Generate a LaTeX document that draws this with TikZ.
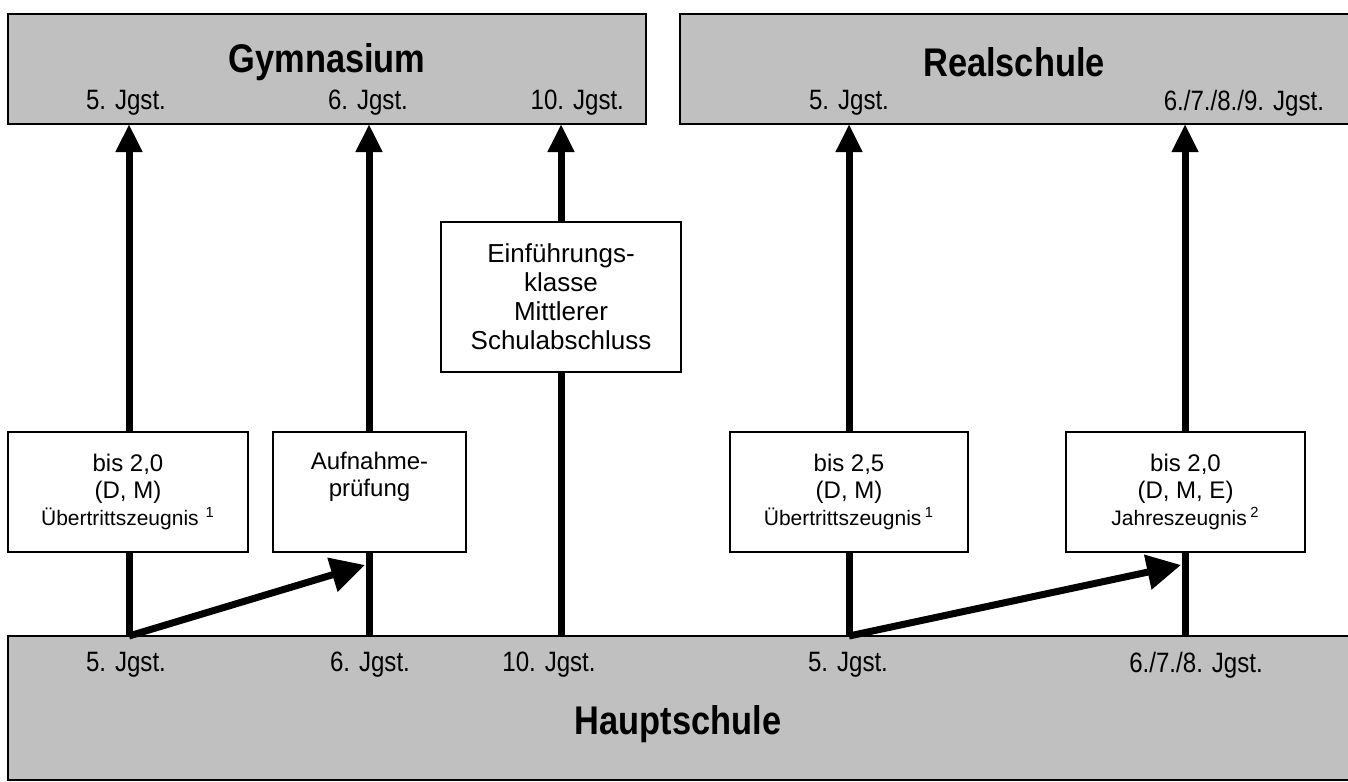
\documentclass[tikz,border=0pt]{standalone}
\usepackage{fontspec}
\setmainfont{Liberation Sans}
\newfontfamily\narrowsans[FakeStretch=0.86]{Liberation Sans}
\usetikzlibrary{arrows.meta}
\definecolor{schoolgray}{RGB}{192,192,192}

\begin{document}
\begin{tikzpicture}[x=0.5pt, y=-0.5pt,
  school/.style={draw, fill=schoolgray, line width=0.8pt, inner sep=0pt},
  crit/.style={draw, fill=white, line width=0.8pt, inner sep=0pt, align=center,
    font=\fontsize{12}{13.5}\selectfont},
  grade/.style={font=\narrowsans\fontsize{14}{16}\selectfont},
  title/.style={font=\narrowsans\bfseries\fontsize{20}{23}\selectfont},
  pass/.style={line width=3.5pt, -{Triangle[length=14pt, width=12.5pt]}},
  skip/.style={line width=3.5pt, -{Triangle[length=17pt, width=17pt]}},
  stem/.style={line width=3.5pt}]

    \useasboundingbox (0,0) rectangle (1348,781);

            % Draw school boxes
            \node[school, minimum width=319pt, minimum height=55pt] (gym) at (327,69) {};
            \node[school, minimum width=336pt, minimum height=55pt] (real) at (1016,69) {};
            \node[school, minimum width=672pt, minimum height=72pt] (haupt) at (680,708) {};

            \node[title] (gymtitle) at (327,62) {Gymnasium};
            \node[title] (realtitle) at (1014,62) {Realschule};
            \node[title] (haupttitle) at (678,724) {Hauptschule};

            % Draw grade labels
            \node[grade] (gymlab5) at (126,103) {5. Jgst.};
            \node[grade] (gymlab6) at (368,103) {6. Jgst.};
            \node[grade, anchor=east] (gymlab10) at (631,103) {10. Jgst.};
            \node[grade] (reallab5) at (849,103) {5. Jgst.};
            \node[grade, anchor=east] (reallab6) at (1331,103) {6./7./8./9. Jgst.};

            \node[grade] (hauptlab5) at (126,665) {5. Jgst.};
            \node[grade] (hauptlab6) at (370,665) {6. Jgst.};
            \node[grade] (hauptlab10) at (549,665) {10. Jgst.};
            \node[grade] (hauptlabr5) at (848,665) {5. Jgst.};
            \node[grade] (hauptlabr6) at (1196,665) {6./7./8. Jgst.};

            % Draw condition boxes
            \node[crit, minimum width=120pt, minimum height=60pt] (cgym5) at (128,492)
              {bis 2,0\\(D, M)\\{\fontsize{10.5}{13}\selectfont Übertrittszeugnis\,\,\textsuperscript{1}}};
            \node[crit, minimum width=96.5pt, minimum height=60pt] (cgym6) at (369.5,492)
              {Aufnahme-\\prüfung\\\strut};
            \node[crit, minimum width=120pt, minimum height=75pt, font=\fontsize{13}{14.5}\selectfont] (cgym10) at (561,297)
              {Einführungs-\\klasse\\Mittlerer\\Schulabschluss};
            \node[crit, minimum width=119pt, minimum height=60pt] (creal5) at (849,492)
              {bis 2,5\\(D, M)\\{\fontsize{10.5}{13}\selectfont Übertrittszeugnis\,\textsuperscript{1}}};
            \node[crit, minimum width=119.5pt, minimum height=60pt] (creal6) at (1185.5,492)
              {bis 2,0\\(D, M, E)\\{\fontsize{10.5}{13}\selectfont Jahreszeugnis\,\textsuperscript{2}}};

            % Draw connector ends
            \coordinate (h5) at (129,636);
            \coordinate (h6) at (369,636);
            \coordinate (h10) at (561,636);
            \coordinate (hr5) at (849,636);
            \coordinate (hr6) at (1185,636);
            \coordinate (g5) at (129,124);
            \coordinate (g6) at (369,124);
            \coordinate (g10) at (561,124);
            \coordinate (r5) at (849,124);
            \coordinate (r6) at (1185,124);
            \coordinate (jump6) at (365,565);
            \coordinate (jumpr6) at (1181,565);

            % Draw lower stems
            \draw[stem] (h5) -- (h5 |- cgym5.south);
            \draw[stem] (h6) -- (h6 |- cgym6.south);
            \draw[stem] (h10) -- (h10 |- cgym10.south);
            \draw[stem] (hr5) -- (hr5 |- creal5.south);
            \draw[stem] (hr6) -- (hr6 |- creal6.south);

            % Draw arrows up
            \draw[pass] (g5 |- cgym5.north) -- (g5);
            \draw[pass] (g6 |- cgym6.north) -- (g6);
            \draw[pass] (g10 |- cgym10.north) -- (g10);
            \draw[pass] (r5 |- creal5.north) -- (r5);
            \draw[pass] (r6 |- creal6.north) -- (r6);

            % Draw jumps
            \draw[skip] (h5) -- (jump6);
            \draw[skip] (hr5) -- (jumpr6);
\end{tikzpicture}
\end{document}
